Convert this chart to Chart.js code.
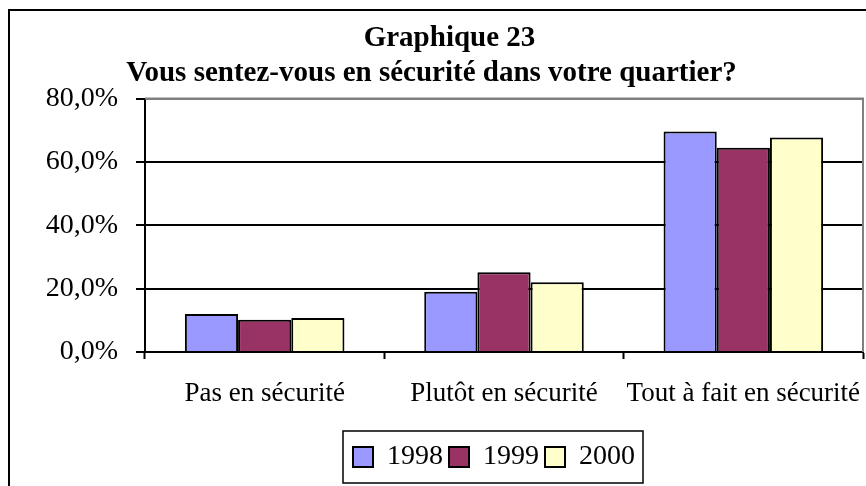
<!DOCTYPE html>
<html>
<head>
<meta charset="utf-8">
<script src="https://cdn.jsdelivr.net/npm/chart.js@4.4.1/dist/chart.umd.min.js"></script>
<style>
  html, body { margin: 0; padding: 0; background: #fff; }
  #wrap { width: 866px; height: 486px; position: relative; }
</style>
</head>
<body>
<div id="wrap"><canvas id="myChart" width="866" height="486"></canvas></div>
<script>
const categories = ["Pas en sécurité", "Plutôt en sécurité", "Tout à fait en sécurité"]
const years = ["1998", "1999", "2000"]
const values1998 = [12.0, 19.0, 69.6]
const values1999 = [10.2, 25.2, 64.5]
const values2000 = [10.7, 22.0, 67.7]
const yTicks = [0, 20, 40, 60, 80]
const titleText = "Graphique 23"
const subtitleText = "Vous sentez-vous en sécurité dans votre quartier?"
const prettyColors = ["#9999FF", "#993366", "#FFFFCC"]

Chart.defaults.font.family = "'Liberation Serif', 'Times New Roman', serif"
Chart.defaults.color = "#000"

// frame around the whole chart and around the legend, plus the gray plot border
const framePlugin = {
  id: "frame",
  afterLayout(chart) {
    // in the original the legend sits a bit left and the first title line a bit right
    chart.legend.left -= 10
    chart.legend.right -= 10
    chart.titleBlock.left += 18
    chart.titleBlock.right += 18
  },
  beforeDraw(chart) {
    const ctx = chart.ctx
    ctx.save()
    ctx.fillStyle = "#fff"
    ctx.fillRect(0, 0, chart.width, chart.height)
    ctx.strokeStyle = "#000"
    ctx.lineWidth = 2
    ctx.beginPath()
    ctx.moveTo(9, chart.height + 5)
    ctx.lineTo(9, 10)
    ctx.lineTo(chart.width + 5, 10)
    ctx.stroke()
    ctx.restore()
  },
  afterDraw(chart) {
    const ctx = chart.ctx
    const area = chart.chartArea
    ctx.save()
    ctx.strokeStyle = "#808080"
    ctx.lineWidth = 2
    ctx.beginPath()
    ctx.moveTo(area.left, area.top)
    ctx.lineTo(area.right, area.top)
    ctx.lineTo(area.right, area.bottom)
    ctx.stroke()
    const boxes = chart.legend.legendHitBoxes
    if (boxes && boxes.length) {
      const first = boxes[0]
      const last = boxes[boxes.length - 1]
      ctx.strokeStyle = "#000"
      ctx.lineWidth = 1.5
      ctx.strokeRect(first.left - 10, first.top - 12, last.left + last.width - first.left + 18, first.height + 24)
    }
    ctx.restore()
  }
}

const myChartRef = document.getElementById("myChart").getContext("2d")
new Chart(myChartRef, {
  type: "bar",
  data: {
    labels: categories,
    datasets: [
      { label: years[0], data: values1998, backgroundColor: prettyColors[0] },
      { label: years[1], data: values1999, backgroundColor: prettyColors[1] },
      { label: years[2], data: values2000, backgroundColor: prettyColors[2] }
    ].map(ds => Object.assign(ds, {
      borderColor: "#000",
      borderWidth: 2,
      categoryPercentage: 2 / 3,
      barPercentage: 1.0
    }))
  },
  options: {
    responsive: false,
    animation: false,
    layout: { padding: { top: 0, right: 3, bottom: 5, left: 0 } },
    plugins: {
      title: {
        display: true,
        text: titleText,
        font: { size: 29, weight: "bold", lineHeight: 1.2 },
        padding: { top: 21, bottom: 0 },
        color: "#000"
      },
      subtitle: {
        display: true,
        text: subtitleText,
        font: { size: 29, weight: "bold", lineHeight: 1.2 },
        padding: { top: 0, bottom: 8 },
        color: "#000"
      },
      legend: {
        position: "bottom",
        fullSize: false,
        labels: {
          boxWidth: 20,
          boxHeight: 20,
          padding: 6,
          font: { size: 28 },
          color: "#000"
        }
      },
      tooltip: { enabled: false }
    },
    scales: {
      x: {
        offset: true,
        grid: {
          offset: true,
          drawOnChartArea: false,
          drawTicks: true,
          tickLength: 7,
          tickColor: "#000",
          tickWidth: 2
        },
        border: { color: "#000", width: 2 },
        ticks: { font: { size: 27 }, padding: 19, color: "#000", maxRotation: 0 },
        afterFit(scale) {
          scale.height = 85
          scale.paddingLeft = 0
          scale.paddingRight = 0
        }
      },
      y: {
        min: 0,
        max: 80,
        afterBuildTicks(scale) { scale.ticks = yTicks.map(v => ({ value: v })) },
        grid: {
          color: ctx => ctx.tick && ctx.tick.value === 80 ? "#808080" : "#000",
          lineWidth: 2,
          tickLength: 9,
          tickColor: "#000",
          tickWidth: 2
        },
        border: { color: "#000", width: 2 },
        ticks: {
          font: { size: 28 },
          padding: 18,
          color: "#000",
          callback: v => v.toFixed(1).replace(".", ",") + "%"
        },
        afterFit(scale) { scale.width = 145 }
      }
    }
  },
  plugins: [framePlugin]
})
</script>
</body>
</html>
